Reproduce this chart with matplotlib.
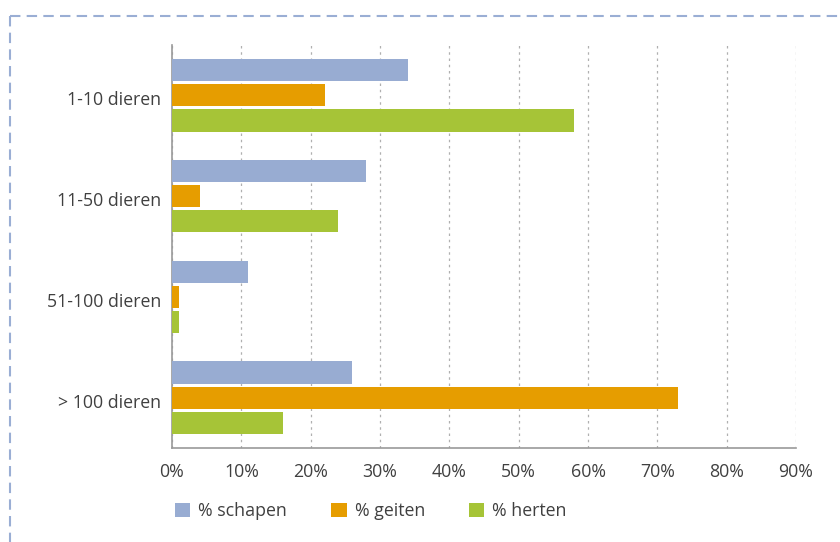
import matplotlib
matplotlib.use('Agg')
from matplotlib import pyplot as plt
from matplotlib.lines import Line2D
from matplotlib.patches import Patch
import numpy as np

plt.rcParams['font.family'] = ['Open Sans', 'DejaVu Sans']

# data
categories = ['1-10 dieren', '11-50 dieren', '51-100 dieren', '> 100 dieren']
series_names = ['% schapen', '% geiten', '% herten']
schapen = [34, 28, 11, 26]
geiten = [22, 4, 1, 73]
herten = [58, 24, 1, 16]
xticks = [0, 10, 20, 30, 40, 50, 60, 70, 80, 90]

colors = ['#98acd2', '#e69d00', '#a6c437']
text_color = '#404040'
fs = 12.8

fig = plt.figure(figsize=(8.4, 5.42), dpi=100)
ax = fig.add_axes([172 / 840, 1 - 448 / 542, 624 / 840, 403 / 542])

y = np.arange(len(categories))
bar_h = 0.22
step = 0.25
for i, (vals, c) in enumerate(zip([schapen, geiten, herten], colors)):
    ax.barh(y + (i - 1) * step, vals, height=bar_h, color=c, zorder=3)

ax.set_ylim(len(categories) - 0.5, -0.5)
ax.set_xlim(0, 90)
ax.set_yticks(y + 0.03)
ax.set_yticklabels(categories, fontsize=fs, color=text_color)
ax.set_xticks(xticks)
ax.set_xticklabels([f'{t}%' for t in xticks], fontsize=fs, color=text_color)
ax.tick_params(axis='x', length=0, pad=11)
ax.tick_params(axis='y', length=0, pad=8)

# dashed vertical grid
ax.grid(axis='x', color='#b0b0b0', linestyle=(0, (2, 3)), linewidth=0.9, zorder=0)
ax.grid(axis='y', visible=False)

for s in ['top', 'right']:
    ax.spines[s].set_visible(False)
for s in ['left', 'bottom']:
    ax.spines[s].set_color('#9a9a9a')
    ax.spines[s].set_linewidth(1.2)

# legend
handles = [Patch(facecolor=c, edgecolor='none') for c in colors]
leg = fig.legend(handles, series_names, loc='center left', bbox_to_anchor=(175 / 840, 1 - 511 / 542),
                 ncol=3, frameon=False, fontsize=fs, handlelength=0.85, handleheight=0.85,
                 columnspacing=2.5, handletextpad=0.45, borderpad=0, borderaxespad=0)
for t in leg.get_texts():
    t.set_color(text_color)

# dashed frame around the figure (top and left visible)
border = '#9aaed4'
fig.add_artist(Line2D([10 / 840, 1.0], [1 - 16 / 542, 1 - 16 / 542], color=border,
                      linewidth=1.5, linestyle=(0, (5, 3)), transform=fig.transFigure))
fig.add_artist(Line2D([10 / 840, 10 / 840], [1 - 16 / 542, 0.0], color=border,
                      linewidth=1.5, linestyle=(0, (5, 3)), transform=fig.transFigure))

fig.savefig('out.png', dpi=100)
